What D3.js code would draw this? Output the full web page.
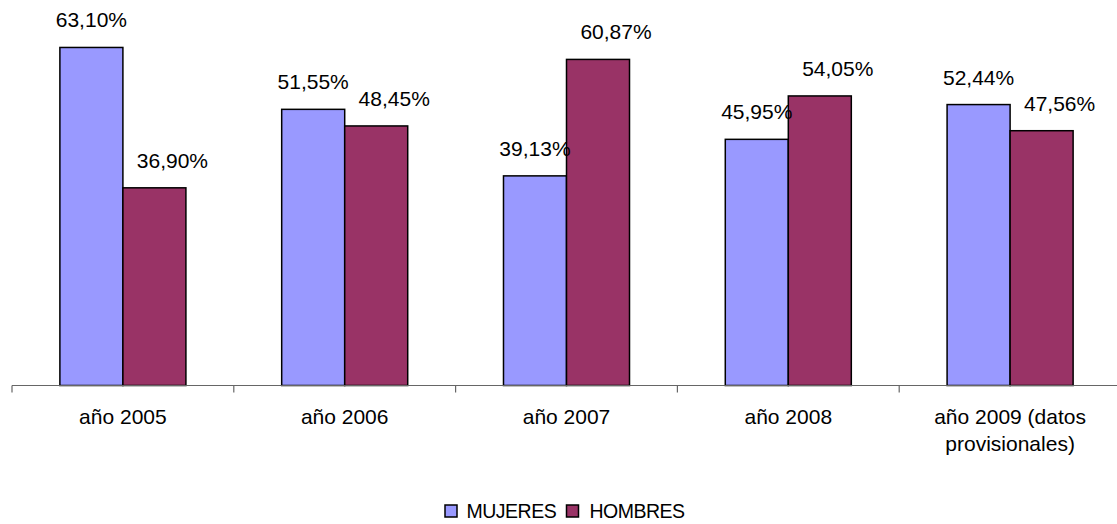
<!DOCTYPE html>
<html>
<head>
<meta charset="utf-8">
<script src="https://cdn.jsdelivr.net/npm/d3@7"></script>
<style>
  body { margin: 0; background: #fff; }
  svg { display: block; font-family: "Liberation Sans", Arial, sans-serif; }
</style>
</head>
<body>
<svg id="chart" width="1117" height="524"></svg>
<script>
// Share of women and men per year
const categories = ["año 2005", "año 2006", "año 2007", "año 2008", "año 2009 (datos provisionales)"];
const categoryLines = [["año 2005"], ["año 2006"], ["año 2007"], ["año 2008"], ["año 2009 (datos", "provisionales)"]];
const seriesNames = ["MUJERES", "HOMBRES"];
const mujeres = [63.10, 51.55, 39.13, 45.95, 52.44];
const hombres = [36.90, 48.45, 60.87, 54.05, 47.56];
const colors = ["#9999FF", "#993366"];

const svg = d3.select("#chart");
const baseY = 385.5;

const x0 = d3.scaleBand().domain(categories).range([12, 1121]).paddingInner(0).paddingOuter(0);
const x1 = d3.scaleBand().domain(seriesNames).range([0, x0.bandwidth()]).paddingInner(0).paddingOuter(0.76);
const y = d3.scaleLinear().domain([0, 70]).range([baseY, 10.5]);

const rows = categories.map((c, i) => ({ cat: c, vals: [mujeres[i], hombres[i]] }));

const groups = svg.selectAll("g.grp").data(rows).join("g")
  .attr("class", "grp")
  .attr("transform", d => `translate(${x0(d.cat)},0)`);

groups.selectAll("rect").data(d => d.vals.map((v, j) => ({ v, s: seriesNames[j], j }))).join("rect")
  .attr("x", d => x1(d.s))
  .attr("width", x1.bandwidth())
  .attr("y", d => y(d.v))
  .attr("height", d => baseY - y(d.v))
  .attr("fill", d => colors[d.j])
  .attr("stroke", "#000")
  .attr("stroke-width", 1.5);

// Value labels: the second series' labels sit a little to the right of their bars
const labelShift = [0, 18];
const fmt = v => v.toFixed(2).replace(".", ",") + "%";
groups.selectAll("text.val").data(d => d.vals.map((v, j) => ({ v, s: seriesNames[j], j }))).join("text")
  .attr("class", "val")
  .attr("x", d => x1(d.s) + x1.bandwidth() / 2 + labelShift[d.j])
  .attr("y", d => y(d.v) - 20)
  .attr("text-anchor", "middle")
  .attr("font-size", 21)
  .attr("fill", "#000")
  .text(d => fmt(d.v));

// Category axis
const axisG = svg.append("g");
axisG.append("line")
  .attr("x1", 12).attr("x2", 1117)
  .attr("y1", baseY).attr("y2", baseY)
  .attr("stroke", "#666").attr("stroke-width", 1.2);
const tickPos = categories.map(c => x0(c));
axisG.selectAll("line.tick").data(tickPos).join("line")
  .attr("class", "tick")
  .attr("x1", d => d).attr("x2", d => d)
  .attr("y1", baseY).attr("y2", baseY + 7)
  .attr("stroke", "#666").attr("stroke-width", 1.2);

const catText = axisG.selectAll("text.cat").data(categories).join("text")
  .attr("class", "cat")
  .attr("x", d => x0(d) + x0.bandwidth() / 2)
  .attr("y", 424)
  .attr("text-anchor", "middle")
  .attr("font-size", 21)
  .attr("fill", "#000");
catText.selectAll("tspan").data((d, i) => categoryLines[i]).join("tspan")
  .attr("x", function() { return d3.select(this.parentNode).attr("x"); })
  .attr("dy", (d, i) => i === 0 ? 0 : 27)
  .text(d => d);

// Legend
const legendItems = [
  { name: seriesNames[0], color: colors[0], sx: 445, tx: 466.5 },
  { name: seriesNames[1], color: colors[1], sx: 566.5, tx: 589.5 }
];
const lg = svg.append("g");
lg.selectAll("rect").data(legendItems).join("rect")
  .attr("x", d => d.sx).attr("y", 505)
  .attr("width", 12).attr("height", 12)
  .attr("fill", d => d.color)
  .attr("stroke", "#000").attr("stroke-width", 1.5);
lg.selectAll("text").data(legendItems).join("text")
  .attr("x", d => d.tx).attr("y", 517.5)
  .attr("font-size", 19.5)
  .attr("letter-spacing", -0.5)
  .attr("fill", "#000")
  .text(d => d.name);
</script>
</body>
</html>
